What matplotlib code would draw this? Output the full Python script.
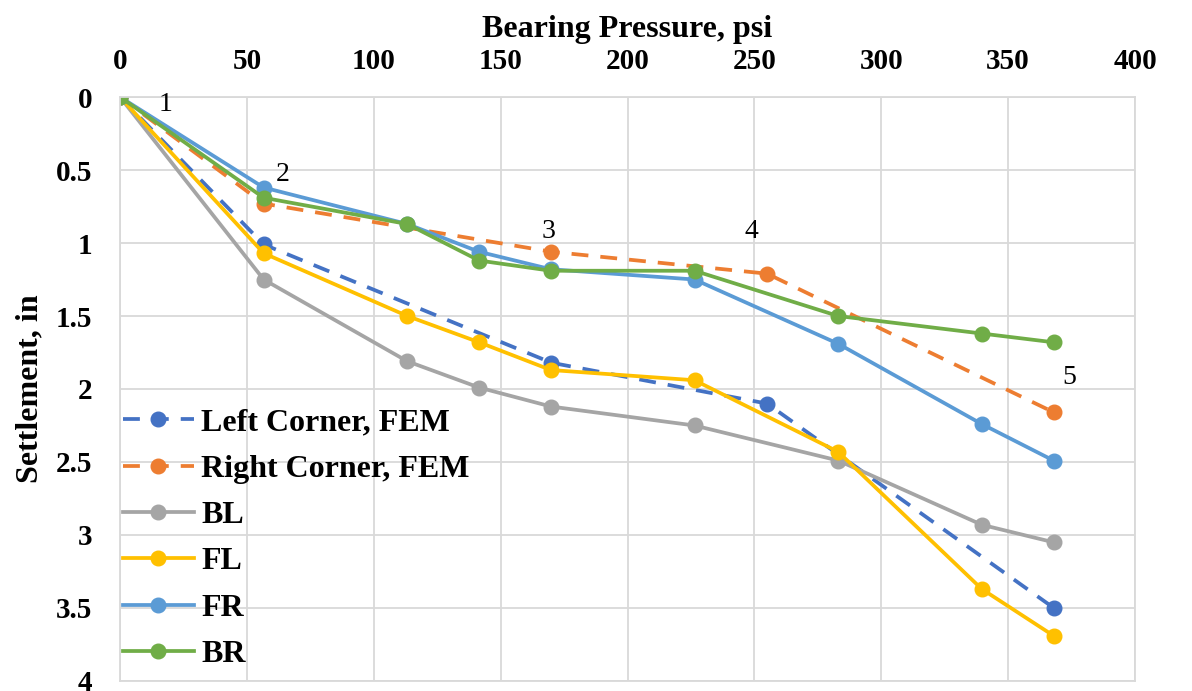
import matplotlib
matplotlib.use("Agg")

import matplotlib.pyplot as plt

plt.rcParams["font.family"] = ["Liberation Serif", "DejaVu Serif"]

# bearing pressure (psi)
p_fem = [0, 56.6, 170, 255, 368]
p_test = [0, 56.6, 113.2, 141.5, 169.8, 226.4, 283, 339.6, 367.9]

# settlement (in)
left_fem = [0, 1.01, 1.82, 2.10, 3.50]
right_fem = [0, 0.73, 1.06, 1.21, 2.16]
bl = [0, 1.25, 1.81, 1.99, 2.12, 2.25, 2.49, 2.93, 3.05]
fl = [0, 1.07, 1.50, 1.68, 1.87, 1.94, 2.43, 3.37, 3.69]
fr = [0, 0.62, 0.87, 1.06, 1.18, 1.25, 1.69, 2.24, 2.49]
br = [0, 0.69, 0.87, 1.12, 1.19, 1.19, 1.50, 1.62, 1.68]

stage_labels = ["1", "2", "3", "4", "5"]
stage_x = [18, 64, 169, 249, 374]
stage_y = [0.05, 0.53, 0.92, 0.92, 1.92]

fig = plt.figure(figsize=(11.92, 6.91), dpi=100)
ax = fig.add_axes([0.1007, 0.0145, 0.8515, 0.8451])

lw, ms = 2.7, 10.5
dash = (0, (4.5, 3.2))
ax.plot(p_fem, left_fem, color="#4472C4", lw=lw, ls=dash, marker="o", ms=ms, label="Left Corner, FEM")
ax.plot(p_fem, right_fem, color="#ED7D31", lw=lw, ls=dash, marker="o", ms=ms, label="Right Corner, FEM")
ax.plot(p_test, bl, color="#A5A5A5", lw=lw, marker="o", ms=ms, label="BL")
ax.plot(p_test, fl, color="#FFC000", lw=lw, marker="o", ms=ms, label="FL")
ax.plot(p_test, fr, color="#5B9BD5", lw=lw, marker="o", ms=ms, label="FR")
ax.plot(p_test, br, color="#70AD47", lw=lw, marker="o", ms=ms, label="BR")

for s, x, y in zip(stage_labels, stage_x, stage_y):
    ax.text(x, y, s, fontsize=20, ha="center", va="center")

ax.set_xlim(0, 400)
ax.set_ylim(4, 0)
ax.set_xticks(range(0, 401, 50))
ax.set_yticks([0, 0.5, 1, 1.5, 2, 2.5, 3, 3.5, 4])
ax.set_yticklabels(["0", "0.5", "1", "1.5", "2", "2.5", "3", "3.5", "4"])
ax.xaxis.tick_top()
ax.xaxis.set_label_position("top")
ax.tick_params(length=0, labelsize=21)
ax.tick_params(axis="x", pad=16)
ax.tick_params(axis="y", pad=20)
for lbl in ax.get_xticklabels() + ax.get_yticklabels():
    lbl.set_fontweight("bold")
ax.set_xlabel("Bearing Pressure, psi", fontsize=23, fontweight="bold", labelpad=8)
ax.set_ylabel("Settlement, in", fontsize=23, fontweight="bold", labelpad=8)

ax.grid(True, color="#D9D9D9", lw=1.3)
ax.set_axisbelow(True)
for sp in ax.spines.values():
    sp.set_color("#D9D9D9")
    sp.set_linewidth(1.3)

leg = ax.legend(loc="lower left", bbox_to_anchor=(0.0, 0.015), frameon=False,
                prop={"size": 23, "weight": "bold"}, handlelength=2.2,
                labelspacing=0.53, handletextpad=0.25, borderaxespad=0.0,
                borderpad=0.1)

fig.savefig("out.png", dpi=100)
